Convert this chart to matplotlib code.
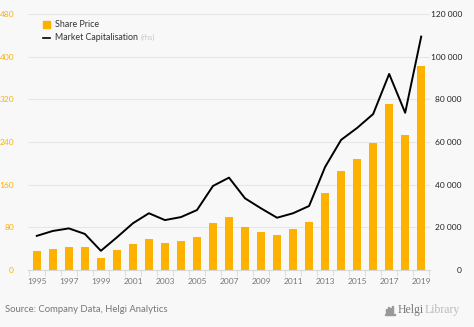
import numpy as np
import matplotlib
matplotlib.use('Agg')
import matplotlib.pyplot as plt
from matplotlib.ticker import FuncFormatter, MultipleLocator

plt.rcParams['font.family'] = ['Lato', 'DejaVu Sans']

years = list(range(1995, 2020))
share_price = [35, 39, 44, 43, 23, 37, 48, 58, 50, 54, 61, 88, 100,
               81, 71, 65, 76, 90, 144, 186, 208, 238, 311, 254, 382]
market_cap = [16000, 18300, 19500, 16900, 9000, 15300, 21900, 26600, 23400, 24800,
              28100, 39400, 43300, 33600, 28900, 24500, 26600, 30000, 48300, 61000,
              66600, 73100, 91900, 73700, 109400]

bg = '#f8f8f9'
orange = '#fdb100'
W, H = 474, 327

fig = plt.figure(figsize=(4.74, 3.27), dpi=100, facecolor=bg)
ax = fig.add_axes([28/W, 57/H, 402/W, 256/H], facecolor=bg)
ax2 = ax.twinx()

ax.bar(years, share_price, width=0.5, color=orange, zorder=2)
ax2.plot(years, market_cap, color='black', lw=1.4, zorder=3)

ax.set_xlim(1994.45, 2019.55)
ax.set_ylim(0, 480)
ax2.set_ylim(0, 120000)

ax.yaxis.set_major_locator(MultipleLocator(80))
ax2.yaxis.set_major_locator(MultipleLocator(20000))
ax2.yaxis.set_major_formatter(FuncFormatter(lambda v, p: '{:,.0f}'.format(v).replace(',', ' ')))

ax.grid(axis='y', color='#e6e6e6', lw=0.8, zorder=0)
ax.set_axisbelow(True)

for a in (ax, ax2):
    for s in a.spines.values():
        s.set_visible(False)
ax.spines['bottom'].set_visible(True)
ax.spines['bottom'].set_color('#d8d8d8')

ax.tick_params(axis='y', length=0, pad=10, labelsize=6, labelcolor=orange)
ax2.tick_params(axis='y', length=0, pad=23, labelsize=6, labelcolor='#222222')
for lab in ax2.get_yticklabels():
    lab.set_ha('right')

ax.set_xticks(years[::2])
ax.set_xticks(np.arange(1994.5, 2020, 1), minor=True)
ax.tick_params(axis='x', which='major', length=0, pad=6, labelsize=6, labelcolor='#777777')
ax.tick_params(axis='x', which='minor', length=4, color='#d8d8d8')

# legend
fig.patches.append(plt.Rectangle((43/W, 1 - 28/H), 7/W, 7/H, transform=fig.transFigure,
                                 color=orange, figure=fig))
fig.text(55/W, 1 - 24.5/H, 'Share Price', fontsize=6.4, color='#333333', va='center')
fig.add_artist(plt.Line2D([43/W, 50/W], [1 - 37.5/H, 1 - 37.5/H], color='black', lw=1.2,
                          transform=fig.transFigure))
fig.text(55/W, 1 - 37.5/H, 'Market Capitalisation', fontsize=6.4, color='#333333', va='center')
fig.text(141/W, 1 - 37.5/H, '(rhs)', fontsize=5.5, color='#c8c8c8', va='center')

fig.text(5/W, 1 - 310/H, 'Source: Company Data, Helgi Analytics', fontsize=6.8, color='#777777',
         va='center')

# logo
for i, hgt in enumerate([4, 6, 5, 7]):
    fig.patches.append(plt.Rectangle(((386 + i * 2) / W, 1 - 313/H), 1.2/W, hgt/H,
                                     transform=fig.transFigure, color='#999999', figure=fig))
fig.patches.append(plt.Rectangle((385/W, 1 - 315/H), 10/W, 1.5/H,
                                 transform=fig.transFigure, color='#999999', figure=fig))
helgi = fig.text(398/W, 1 - 310/H, 'Helgi', fontsize=8.5, color='#777777', va='center',
                 family=['Liberation Serif', 'DejaVu Serif'])
r = fig.canvas.get_renderer()
bb = helgi.get_window_extent(r)
fig.text(bb.x1 / W + 0.5/W, 1 - 310/H, 'Library', fontsize=8.5, color='#bbbbbb', va='center',
         family=['Liberation Serif', 'DejaVu Serif'])

fig.savefig('out.png', dpi=100, facecolor=bg)
